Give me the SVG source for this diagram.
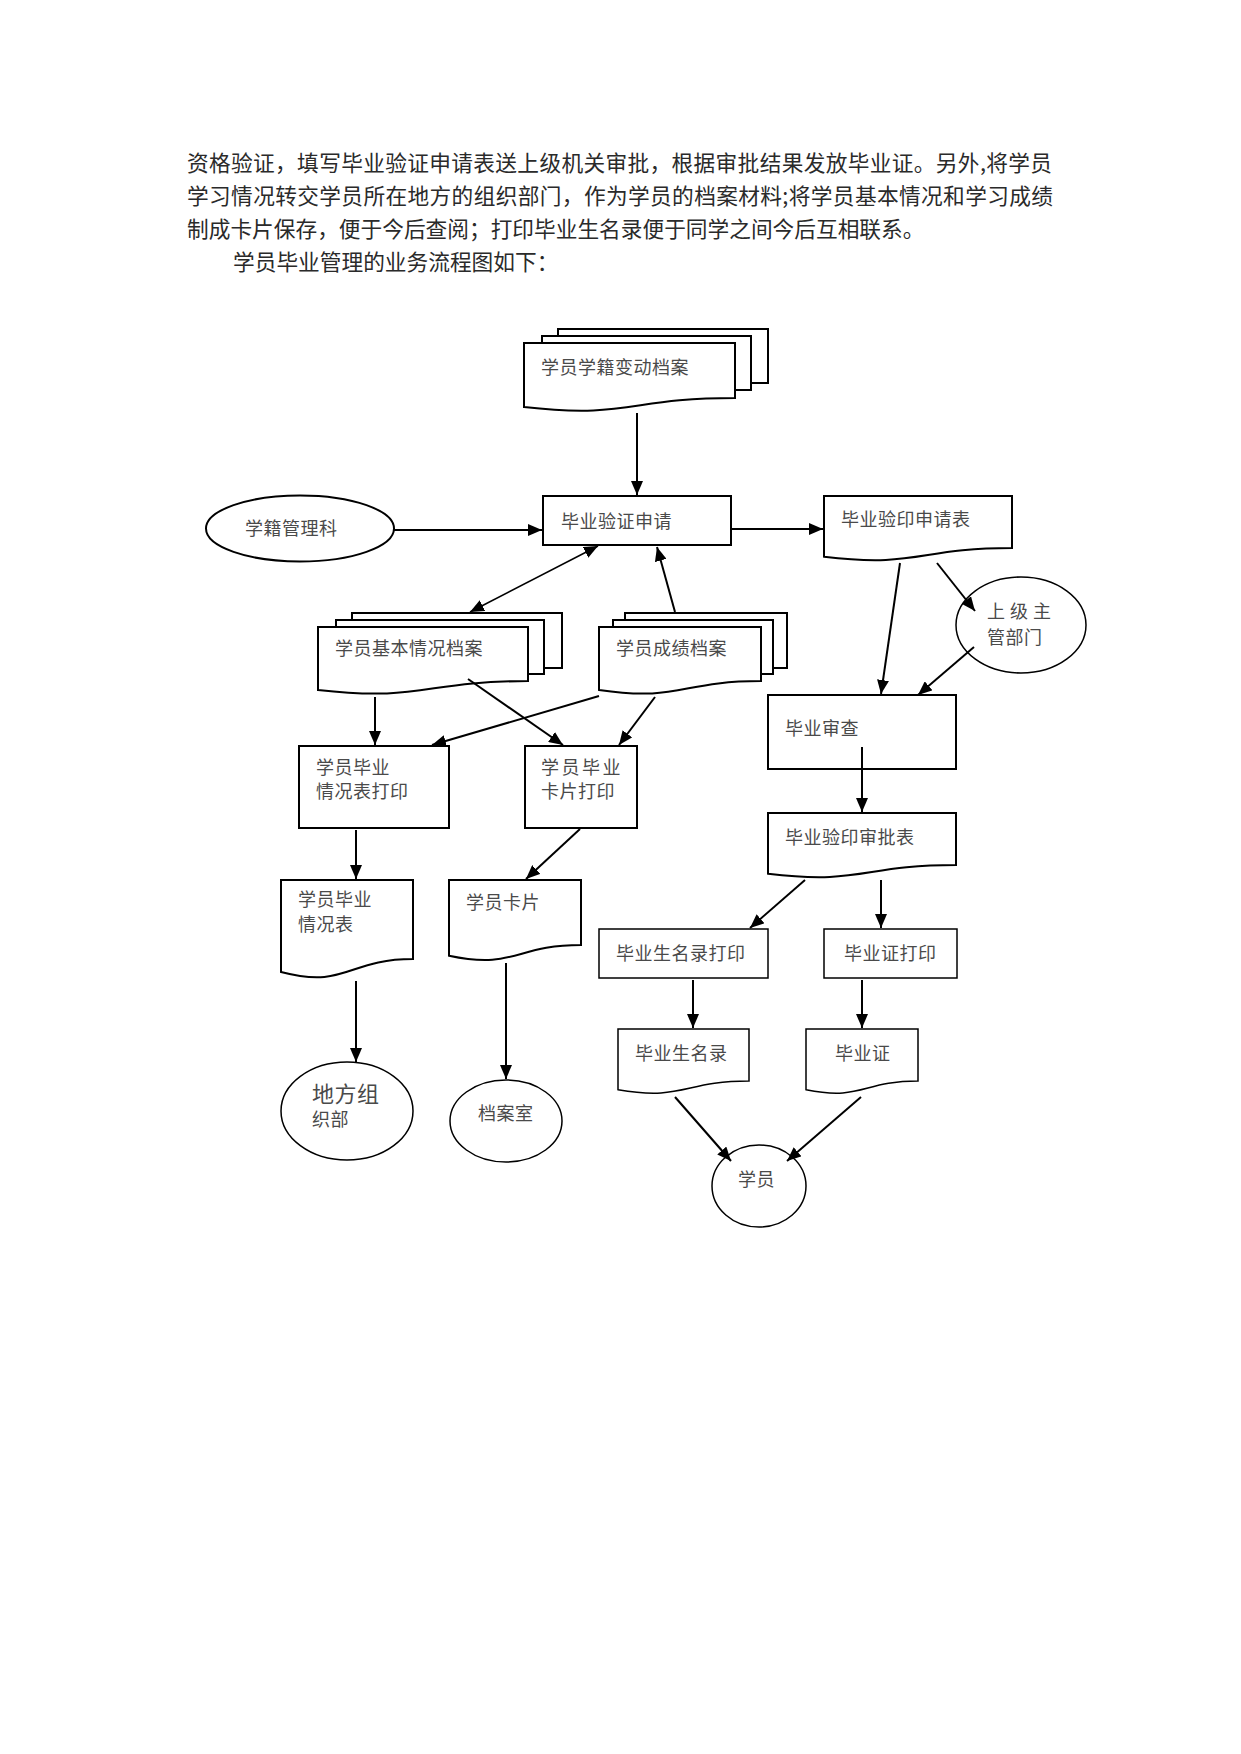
<svg xmlns="http://www.w3.org/2000/svg" width="1241" height="1754" viewBox="0 0 1241 1754">
<style>
.para{font-family:"Noto Sans CJK SC","Liberation Serif",serif;font-size:21.7px;fill:#2a2a2a}
.lbl{font-family:"Noto Sans CJK SC","Liberation Sans",sans-serif;font-size:18px;letter-spacing:0.5px;fill:#4a4a4a}
.shape{fill:#fff;stroke:#000;stroke-width:2}
.thin{fill:#fff;stroke:#000;stroke-width:1.5}
.conn line{stroke:#000;stroke-width:2;marker-end:url(#ah)}
</style>
<defs>
<marker id="ah" markerUnits="userSpaceOnUse" markerWidth="15" markerHeight="12" refX="14" refY="6" orient="auto"><path d="M0,0 L14,6 L0,12 z" fill="#000"/></marker>
<marker id="as" markerUnits="userSpaceOnUse" markerWidth="15" markerHeight="12" refX="14" refY="6" orient="auto-start-reverse"><path d="M0,0 L14,6 L0,12 z" fill="#000"/></marker>
</defs>
<rect width="1241" height="1754" fill="#fff"/>

<g id="paragraph">
<text class="para" x="187" y="171" textLength="865" lengthAdjust="spacing">资格验证，填写毕业验证申请表送上级机关审批，根据审批结果发放毕业证。另外,将学员</text>
<text class="para" x="187" y="204" textLength="866" lengthAdjust="spacing">学习情况转交学员所在地方的组织部门，作为学员的档案材料;将学员基本情况和学习成绩</text>
<text class="para" x="187" y="237">制成卡片保存，便于今后查阅；打印毕业生名录便于同学之间今后互相联系。</text>
<text class="para" x="233" y="270">学员毕业管理的业务流程图如下：</text>
</g>

<g id="n-xueji-biandong">
<rect class="shape" x="558" y="329" width="210" height="54"/>
<rect class="shape" x="542" y="336" width="209" height="54"/>
<path class="shape" d="M524,343 H735 V397.9 C629.5,397.9 629.5,418.9 524,407 Z"/>
<text class="lbl" x="541" y="374">学员学籍变动档案</text>
</g>

<g id="n-xueji-guanli">
<ellipse class="shape" cx="300" cy="528.5" rx="94" ry="33"/>
<text class="lbl" x="245" y="535">学籍管理科</text>
</g>

<g id="n-yanzheng-shenqing">
<rect class="shape" x="543" y="496" width="188" height="49"/>
<text class="lbl" x="561" y="528">毕业验证申请</text>
</g>

<g id="n-yanyin-shenqingbiao">
<path class="shape" d="M824,496 H1012 V548.1 C918,548.1 918,568 824,556.7 Z"/>
<text class="lbl" x="841" y="526">毕业验印申请表</text>
</g>

<g id="n-shangji">
<ellipse class="thin" cx="1021" cy="625" rx="65" ry="48"/>
<text class="lbl" x="987" y="618">上 级 主</text>
<text class="lbl" x="987" y="644">管部门</text>
</g>

<g id="n-jiben-dangan">
<rect class="shape" x="352" y="613" width="210" height="55"/>
<rect class="shape" x="336" y="620" width="208" height="54"/>
<path class="shape" d="M318,627 H528 V681.1 C423,681.1 423,701.8 318,690 Z"/>
<text class="lbl" x="335" y="655">学员基本情况档案</text>
</g>

<g id="n-chengji-dangan">
<rect class="shape" x="625" y="613" width="162" height="55"/>
<rect class="shape" x="613" y="620" width="160" height="54"/>
<path class="shape" d="M599,627 H761 V681.1 C680,681.1 680,701.8 599,690 Z"/>
<text class="lbl" x="616" y="655">学员成绩档案</text>
</g>

<g id="n-shencha">
<rect class="shape" x="768" y="695" width="188" height="74"/>
<text class="lbl" x="785" y="735">毕业审查</text>
</g>

<g id="n-qingkuangbiao-dayin">
<rect class="shape" x="299" y="746" width="150" height="82"/>
<text class="lbl" x="316" y="774">学员毕业</text>
<text class="lbl" x="316" y="798">情况表打印</text>
</g>

<g id="n-kapian-dayin">
<rect class="shape" x="525" y="746" width="112" height="82"/>
<text class="lbl" x="541" y="774" style="letter-spacing:2.5px">学员毕业</text>
<text class="lbl" x="541" y="798">卡片打印</text>
</g>

<g id="n-shenpibiao">
<path class="shape" d="M768,813 H956 V865.1 C862,865.1 862,885 768,873.7 Z"/>
<text class="lbl" x="785" y="844">毕业验印审批表</text>
</g>

<g id="n-qingkuangbiao">
<path class="shape" d="M281,880 H413 V959 C347,959 347,989.1 281,972 Z"/>
<text class="lbl" x="298" y="906">学员毕业</text>
<text class="lbl" x="298" y="931">情况表</text>
</g>

<g id="n-kapian">
<path class="shape" d="M449,880 H581 V945 C515,945 515,969.7 449,955.7 Z"/>
<text class="lbl" x="466" y="909">学员卡片</text>
</g>

<g id="n-minglu-dayin">
<rect class="thin" x="599" y="929" width="169" height="49"/>
<text class="lbl" x="616" y="960">毕业生名录打印</text>
</g>

<g id="n-zheng-dayin">
<rect class="thin" x="824" y="929" width="133" height="49"/>
<text class="lbl" x="844" y="960">毕业证打印</text>
</g>

<g id="n-minglu">
<path class="thin" d="M618,1029 H749 V1081.1 C683.5,1081.1 683.5,1101 618,1089.7 Z"/>
<text class="lbl" x="635" y="1060">毕业生名录</text>
</g>

<g id="n-zheng">
<path class="thin" d="M806,1029 H918 V1081.1 C862,1081.1 862,1101 806,1089.7 Z"/>
<text class="lbl" x="835" y="1060">毕业证</text>
</g>

<g id="n-difang">
<ellipse class="thin" cx="347" cy="1111" rx="66" ry="49"/>
<text class="lbl" x="312" y="1102" style="font-size:22px">地方组</text>
<text class="lbl" x="312" y="1126">织部</text>
</g>

<g id="n-danganshi">
<ellipse class="thin" cx="506" cy="1121" rx="56" ry="41"/>
<text class="lbl" x="478" y="1120">档案室</text>
</g>

<g id="n-xueyuan">
<ellipse class="thin" cx="759" cy="1186" rx="47" ry="41"/>
<text class="lbl" x="738" y="1186">学员</text>
</g>

<g id="connectors" class="conn">
<line x1="637" y1="413" x2="637" y2="495"/>
<line x1="393" y1="530" x2="542" y2="530"/>
<line x1="731" y1="529" x2="823" y2="529"/>
<line x1="470" y1="612" x2="598" y2="546" style="stroke-width:1.6;marker-start:url(#as)"/>
<line x1="675" y1="612" x2="657" y2="547"/>
<line x1="937" y1="563" x2="975" y2="611"/>
<line x1="900" y1="563" x2="881" y2="694"/>
<line x1="974" y1="647" x2="918" y2="695"/>
<line x1="375" y1="697" x2="375" y2="745"/>
<line x1="468" y1="679" x2="563" y2="745"/>
<line x1="599" y1="696" x2="432" y2="745"/>
<line x1="655" y1="697" x2="619" y2="745"/>
<line x1="356" y1="830" x2="356" y2="879"/>
<line x1="580" y1="829" x2="526" y2="879"/>
<line x1="356" y1="981" x2="356" y2="1062"/>
<line x1="506" y1="963" x2="506" y2="1079"/>
<line x1="862" y1="747" x2="862" y2="812"/>
<line x1="805" y1="880" x2="750" y2="928"/>
<line x1="881" y1="880" x2="881" y2="928"/>
<line x1="693" y1="980" x2="693" y2="1028"/>
<line x1="862" y1="980" x2="862" y2="1028"/>
<line x1="675" y1="1097" x2="731" y2="1161"/>
<line x1="861" y1="1097" x2="787" y2="1161"/>
</g>
</svg>
